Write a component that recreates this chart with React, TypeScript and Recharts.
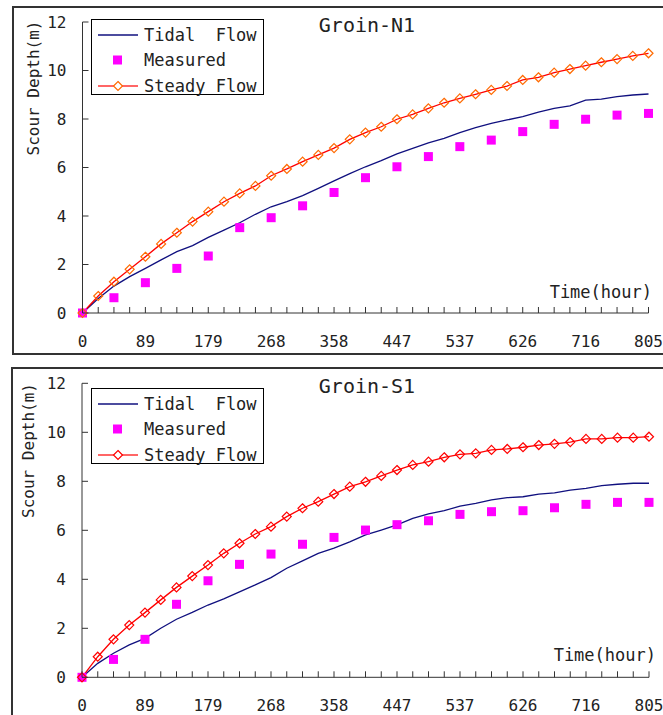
import { LineChart, Line, XAxis, YAxis, Legend, Customized } from "recharts";

const FONT = '"DejaVu Sans Mono", "Liberation Mono", monospace';

// 36 equal steps from 0 to 805 hours
const HOURS = Array.from({ length: 37 }, (_, i) => (i * 805) / 36);
const TICK_LABELS = ["0", "89", "179", "268", "358", "447", "537", "626", "716", "805"];
const DEPTH_TICKS = [0, 2, 4, 6, 8, 10, 12];
const LEGEND_ORDER = ["tidal", "measured", "steady"];

const N1_TIDAL = [
  0, 0.6, 1.11, 1.5, 1.84, 2.19, 2.53, 2.78, 3.12, 3.42, 3.72, 4.07, 4.38, 4.59, 4.84, 5.14, 5.45, 5.75,
  6.03, 6.28, 6.56, 6.79, 7.02, 7.2, 7.44, 7.64, 7.82, 7.96, 8.1, 8.28, 8.44, 8.54, 8.78, 8.82, 8.92, 8.99, 9.03,
];
const N1_MEASURED = [0, 0.63, 1.25, 1.84, 2.35, 3.52, 3.93, 4.42, 4.97, 5.58, 6.03, 6.45, 6.86, 7.13, 7.48, 7.78, 7.99, 8.16, 8.23];
const N1_STEADY = [
  0, 0.7, 1.29, 1.8, 2.32, 2.85, 3.31, 3.77, 4.18, 4.59, 4.93, 5.24, 5.66, 5.94, 6.24, 6.52, 6.8, 7.16,
  7.44, 7.68, 7.99, 8.19, 8.44, 8.67, 8.85, 9.02, 9.2, 9.36, 9.61, 9.72, 9.91, 10.06, 10.2, 10.34, 10.47, 10.6, 10.71,
];

const S1_TIDAL = [
  0, 0.57, 0.98, 1.32, 1.59, 2.0, 2.37, 2.65, 2.95, 3.2, 3.49, 3.77, 4.07, 4.45, 4.75, 5.06, 5.27, 5.53,
  5.81, 6.01, 6.22, 6.49, 6.67, 6.8, 6.99, 7.1, 7.24, 7.33, 7.37, 7.48, 7.53, 7.64, 7.71, 7.82, 7.88, 7.92, 7.92,
];
const S1_MEASURED = [0, 0.73, 1.55, 2.98, 3.94, 4.61, 5.03, 5.43, 5.71, 6.01, 6.23, 6.39, 6.65, 6.76, 6.8, 6.92, 7.06, 7.14, 7.14];
const S1_STEADY = [
  0, 0.84, 1.55, 2.13, 2.64, 3.16, 3.67, 4.13, 4.58, 5.06, 5.47, 5.85, 6.15, 6.56, 6.9, 7.17, 7.48, 7.78,
  7.98, 8.22, 8.46, 8.67, 8.8, 8.98, 9.1, 9.14, 9.28, 9.32, 9.39, 9.48, 9.53, 9.6, 9.73, 9.73, 9.78, 9.78, 9.82,
];

const buildRows = (tidal: number[], measured: number[], steady: number[]) =>
  HOURS.map((t, i) => ({
    t,
    tidal: tidal[i],
    measured: i % 2 === 0 ? measured[i / 2] : null,
    steady: steady[i],
  }));

const XTick = (props: any) => {
  const { x, y, index } = props;
  return (
    <g>
      <line x1={x} y1={y} x2={x} y2={y - 6} stroke="#333" />
      {index % 4 === 0 && (
        <text x={x} y={y + 28} textAnchor="middle" dominantBaseline="central" fontFamily={FONT} fontSize={16} fill="#222">
          {TICK_LABELS[index / 4]}
        </text>
      )}
    </g>
  );
};

const YTick = (props: any) => {
  const { x, y, payload } = props;
  return (
    <g>
      <line x1={x} y1={y} x2={x + 6} y2={y} stroke="#333" />
      <text x={x - 16} y={y} textAnchor="end" dominantBaseline="central" fontFamily={FONT} fontSize={16} fill="#222">
        {payload.value}
      </text>
    </g>
  );
};

const squareDot = (props: any) => {
  const { cx, cy, value, index } = props;
  if (value == null || cy == null) return <g key={`m-${index}`} />;
  return <rect key={`m-${index}`} x={cx - 4.5} y={cy - 4.5} width={9} height={9} fill="#FF00FF" />;
};

const diamondDot = (color: string) => (props: any) => {
  const { cx, cy, index } = props;
  return (
    <path
      key={`d-${index}`}
      d={`M${cx},${cy - 4.5} L${cx + 4.5},${cy} L${cx},${cy + 4.5} L${cx - 4.5},${cy} Z`}
      fill="none"
      stroke={color}
      strokeWidth={1.2}
    />
  );
};

const legendContent = (diamondColor: string) => (props: any) => {
  const payload = [...(props.payload || [])].sort(
    (a: any, b: any) => LEGEND_ORDER.indexOf(a.dataKey) - LEGEND_ORDER.indexOf(b.dataKey)
  );
  return (
    <div
      style={{
        boxSizing: "border-box",
        width: 173,
        height: 76,
        border: "1px solid #000",
        background: "#fff",
        paddingTop: 2,
        fontFamily: FONT,
        fontSize: 17,
        color: "#222",
      }}
    >
      {payload.map((entry: any) => (
        <div key={entry.dataKey} style={{ display: "flex", alignItems: "center", height: 25.5 }}>
          <svg width={52} height={20}>
            {entry.dataKey === "tidal" && <line x1={6} y1={10} x2={46} y2={10} stroke="#10107f" strokeWidth={1.5} />}
            {entry.dataKey === "measured" && <rect x={21} y={5.5} width={9} height={9} fill="#FF00FF" />}
            {entry.dataKey === "steady" && (
              <g>
                <line x1={6} y1={10} x2={46} y2={10} stroke="#FF3333" strokeWidth={1.5} />
                <path d="M26,5.5 L30.5,10 L26,14.5 L21.5,10 Z" fill="#fff" stroke={diamondColor} strokeWidth={1.2} />
              </g>
            )}
          </svg>
          <span style={{ whiteSpace: "pre" }}>{entry.value}</span>
        </div>
      ))}
    </div>
  );
};

interface PanelProps {
  top: number;
  height: number;
  margin: { top: number; right: number; bottom: number; left: number };
  title: string;
  tidal: number[];
  measured: number[];
  steady: number[];
  diamondColor: string;
  legendTop: number;
  yTitleX: number;
  yTitleY: number;
  timeX: number;
  timeY: number;
}

function Panel(p: PanelProps) {
  const rows = buildRows(p.tidal, p.measured, p.steady);
  return (
    <div style={{ position: "absolute", left: 0, top: p.top }}>
      <LineChart width={663} height={p.height} data={rows} margin={p.margin}>
        <XAxis
          dataKey="t"
          type="number"
          domain={[0, 805]}
          ticks={HOURS}
          interval={0}
          height={1}
          tickSize={0}
          tickMargin={0}
          tickLine={false}
          axisLine={{ stroke: "#333" }}
          tick={<XTick />}
        />
        <YAxis
          domain={[0, 12]}
          ticks={DEPTH_TICKS}
          interval={0}
          width={1}
          tickSize={0}
          tickMargin={0}
          tickLine={false}
          axisLine={{ stroke: "#333" }}
          tick={<YTick />}
        />
        <Line
          dataKey="tidal"
          name="Tidal  Flow"
          type="linear"
          stroke="#10107f"
          strokeWidth={1.3}
          dot={false}
          isAnimationActive={false}
        />
        <Line
          dataKey="measured"
          name="Measured"
          stroke="none"
          dot={squareDot}
          activeDot={false}
          isAnimationActive={false}
        />
        <Line
          dataKey="steady"
          name="Steady Flow"
          type="linear"
          stroke="#FF0000"
          strokeWidth={1.3}
          dot={diamondDot(p.diamondColor)}
          isAnimationActive={false}
        />
        <Legend
          layout="vertical"
          align="center"
          verticalAlign="middle"
          content={legendContent(p.diamondColor)}
          wrapperStyle={{ left: 91, top: p.legendTop, width: 173, height: 76 }}
        />
        <Customized
          component={() => (
            <g fontFamily={FONT} fill="#222">
              <text x={367} y={p.margin.top + 3} textAnchor="middle" dominantBaseline="central" fontSize={20}>
                {p.title}
              </text>
              <text
                x={p.yTitleX}
                y={p.yTitleY}
                textAnchor="middle"
                dominantBaseline="central"
                fontSize={16}
                transform={`rotate(-90 ${p.yTitleX} ${p.yTitleY})`}
              >
                Scour Depth(m)
              </text>
              <text x={p.timeX} y={p.timeY} textAnchor="end" dominantBaseline="central" fontSize={17}>
                Time(hour)
              </text>
            </g>
          )}
        />
      </LineChart>
    </div>
  );
}

export default function App() {
  return (
    <div style={{ position: "absolute", left: 0, top: 0, width: 663, height: 715, overflow: "hidden", background: "#fff" }}>
      <div style={{ position: "absolute", left: 12, top: 6, width: 700, height: 345, border: "2px solid #333" }} />
      <div style={{ position: "absolute", left: 11, top: 367, width: 700, height: 400, border: "2px solid #333" }} />
      <Panel
        top={0}
        height={360}
        margin={{ top: 22, right: 14.5, bottom: 46, left: 81.5 }}
        title="Groin-N1"
        tidal={N1_TIDAL}
        measured={N1_MEASURED}
        steady={N1_STEADY}
        diamondColor="#FF6A00"
        legendTop={19}
        yTitleX={33}
        yTitleY={88}
        timeX={652}
        timeY={292}
      />
      <Panel
        top={360}
        height={355}
        margin={{ top: 23.3, right: 14, bottom: 36.7, left: 81 }}
        title="Groin-S1"
        tidal={S1_TIDAL}
        measured={S1_MEASURED}
        steady={S1_STEADY}
        diamondColor="#FF0000"
        legendTop={28}
        yTitleX={28}
        yTitleY={90.5}
        timeX={656}
        timeY={295}
      />
    </div>
  );
}
